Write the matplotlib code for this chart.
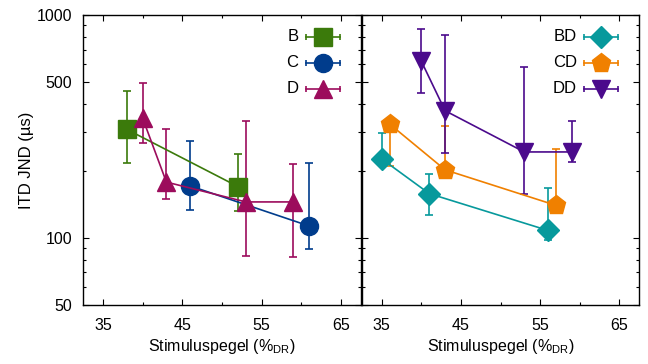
import matplotlib
matplotlib.use("Agg")
import matplotlib.pyplot as plt
from matplotlib.ticker import FixedLocator, NullFormatter, FixedFormatter

plt.rcParams['font.family'] = ['Liberation Sans', 'DejaVu Sans']
plt.rcParams['mathtext.fontset'] = 'custom'
plt.rcParams['mathtext.rm'] = 'Liberation Sans'
plt.rcParams['mathtext.it'] = 'Liberation Sans'
plt.rcParams['font.size'] = 11.5

# ---- data (level in %DR, ITD JND in microseconds, error-bar low/high) ----
B_x = [38, 52]
B_y = [307, 170]
B_lo = [217, 132]
B_hi = [457, 237]

C_x = [46, 61]
C_y = [171, 113]
C_lo = [133, 89]
C_hi = [272, 217]

D_x = [40, 43, 53, 59]
D_y = [345, 178, 145, 145]
D_lo = [267, 150, 83, 82]
D_hi = [493, 307, 333, 215]

BD_x = [35, 41, 56]
BD_y = [226, 158, 108]
BD_lo = [211, 127, 98]
BD_hi = [296, 193, 167]

CD_x = [36, 43, 57]
CD_y = [324, 202, 140]
CD_lo = [211, 195, 137]
CD_hi = [335, 317, 251]

DD_x = [40, 43, 53, 59]
DD_y = [620, 372, 243, 243]
DD_lo = [448, 241, 158, 218]
DD_hi = [861, 810, 584, 335]

left_series = [("B", B_x, B_y, B_lo, B_hi, "#3b7a0b", "s", 13),
               ("C", C_x, C_y, C_lo, C_hi, "#003c8c", "o", 13),
               ("D", D_x, D_y, D_lo, D_hi, "#9c0c5c", "^", 13)]
right_series = [("BD", BD_x, BD_y, BD_lo, BD_hi, "#07999c", "D", 11),
                ("CD", CD_x, CD_y, CD_lo, CD_hi, "#f08000", "p", 14),
                ("DD", DD_x, DD_y, DD_lo, DD_hi, "#4b0a8c", "v", 13)]

xticks = [35, 45, 55, 65]
xminor = [40, 50, 60]
yticks = [50, 100, 500, 1000]
yminor = [60, 70, 80, 90, 200, 300, 400, 600, 700, 800, 900]

fig = plt.figure(figsize=(6.48, 3.64), dpi=100)
W, H = 648, 364
axL = fig.add_axes([83 / W, (H - 305) / H, 278 / W, 290 / H])
axR = fig.add_axes([362 / W, (H - 305) / H, 277 / W, 290 / H])

legend_y = [0.925, 0.8355, 0.745]

for ax, series, showy in [(axL, left_series, True), (axR, right_series, False)]:
    for i, (name, xs, ys, lo, hi, col, mk, ms) in enumerate(series):
        yerr = [[y - l for y, l in zip(ys, lo)], [h - y for y, h in zip(ys, hi)]]
        ax.errorbar(xs, ys, yerr=yerr, color=col, ecolor=col, marker=mk,
                    markersize=ms, linewidth=1.2, elinewidth=1.2,
                    capsize=3, capthick=1.2, zorder=3)
        # legend entry (gnuplot style: label, line with caps, marker)
        ly = legend_y[i]
        ax.text(0.775, ly, name, transform=ax.transAxes, ha='right',
                va='center', fontsize=12)
        ax.plot([0.802, 0.924], [ly, ly], color=col, linewidth=1.2,
                transform=ax.transAxes, clip_on=False)
        ax.plot([0.802, 0.924], [ly, ly], color=col, linestyle='none',
                marker='|', markersize=5, markeredgewidth=1.2,
                transform=ax.transAxes, clip_on=False)
        ax.plot([0.863], [ly], color=col, marker=mk, markersize=ms,
                linestyle='none', transform=ax.transAxes, clip_on=False)

    ax.set_yscale('log')
    ax.set_ylim(50, 1000)
    ax.set_xlim(32.5, 67.5)
    ax.xaxis.set_major_locator(FixedLocator(xticks))
    ax.xaxis.set_minor_locator(FixedLocator(xminor))
    ax.yaxis.set_major_locator(FixedLocator(yticks))
    ax.yaxis.set_minor_locator(FixedLocator(yminor))
    ax.yaxis.set_minor_formatter(NullFormatter())
    if showy:
        ax.yaxis.set_major_formatter(FixedFormatter([str(v) for v in yticks]))
        ax.set_ylabel("ITD JND (µs)", fontsize=12, labelpad=1.5)
    else:
        ax.yaxis.set_major_formatter(NullFormatter())
    ax.xaxis.set_major_formatter(FixedFormatter([str(v) for v in xticks]))
    ax.tick_params(which='both', direction='in', top=True, right=True,
                   labelsize=11.5, width=0.8)
    ax.tick_params(axis='x', which='major', length=4.5, pad=9)
    ax.tick_params(axis='y', which='major', length=4.5, pad=8)
    ax.tick_params(which='minor', length=2.5)
    ax.set_xlabel("Stimuluspegel (%$_{\\mathrm{DR}}$)", fontsize=11.5, labelpad=3)
    for s in ax.spines.values():
        s.set_linewidth(1.0)

fig.savefig("out.png", dpi=100)
